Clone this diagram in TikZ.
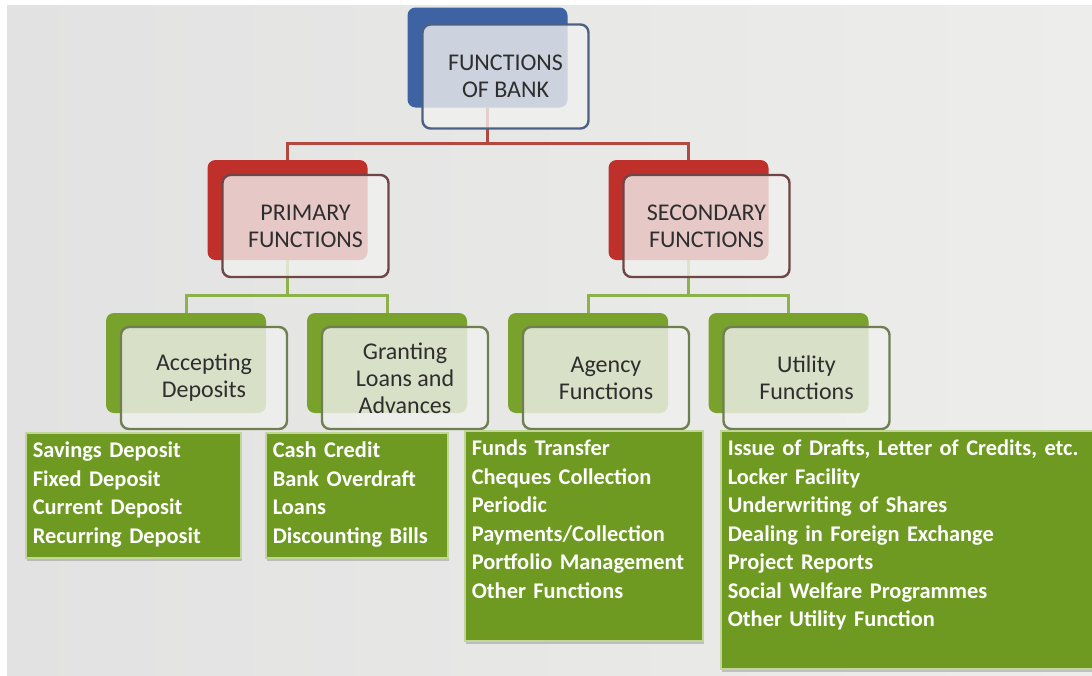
\documentclass[tikz,border=0pt]{standalone}
\usepackage{fontspec}
\setmainfont{Carlito}
\usetikzlibrary{shadows}
\definecolor{bankblue}{HTML}{3E63A3}
\definecolor{bankblueline}{HTML}{4D6184}
\definecolor{bankred}{HTML}{BF302B}
\definecolor{bankredline}{HTML}{6E4646}
\definecolor{bankgreen}{HTML}{78A22B}
\definecolor{bankgreenline}{HTML}{6F7F52}
\definecolor{listgreen}{HTML}{6E9A22}
\definecolor{listedge}{HTML}{C2D69A}
\definecolor{frontfill}{HTML}{F0F0EE}
\definecolor{redlink}{HTML}{B2483F}
\definecolor{greenlink}{HTML}{8DB24B}
\definecolor{bgleft}{HTML}{E2E2E2}
\definecolor{bgright}{HTML}{EDEDEB}
\tikzset{
  backbox/.style={rounded corners=4pt, minimum width=80pt, minimum height=50pt, inner sep=0pt},
  frontbox/.style={draw, rounded corners=4pt, line width=1.2pt, fill=frontfill, fill opacity=0.8,
    draw opacity=1, text opacity=1, minimum width=83pt, minimum height=51pt, inner sep=0pt, align=center,
    text=black!82, font=\fontsize{12}{13.5}\selectfont},
  listbox/.style={draw=listedge, line width=0.8pt, fill=listgreen, text=white, align=left,
    anchor=north west, inner xsep=3.5pt, inner ysep=2pt, text height=10.5pt,
    font=\fontsize{11.2}{14.25}\selectfont\bfseries,
    drop shadow={shadow xshift=0.6pt, shadow yshift=-1.6pt, opacity=0.4}},
  redlinkline/.style={draw=redlink, line width=1.5pt},
  greenlinkline/.style={draw=greenlink, line width=1.5pt}
}
\begin{document}
\begin{tikzpicture}[x=0.5pt, y=-0.5pt]
  \useasboundingbox (0,0) rectangle (1092,675);
  \fill[white] (0,0) rectangle (1092,675);
  \shade[left color=bgleft, right color=bgright] (7,5) rectangle (1092,675);

  % back boxes
  \node[backbox, fill=bankblue] (bank) at (487.5,57.5) {};
  \node[backbox, fill=bankred] (prim) at (287.5,210) {};
  \node[backbox, fill=bankred] (sec) at (688.5,210) {};
  \node[backbox, fill=bankgreen] (acc) at (186,363) {};
  \node[backbox, fill=bankgreen] (gra) at (387,363) {};
  \node[backbox, fill=bankgreen] (agy) at (588,363) {};
  \node[backbox, fill=bankgreen] (uti) at (788.5,363) {};

  % connectors
  \coordinate (bankjoin) at (487.5,143);
  \coordinate (primjoin) at (287.5,295);
  \coordinate (secjoin) at (688.5,295);
  \draw[redlinkline] (bank.south) -- (bankjoin);
  \draw[redlinkline] (prim.north) |- (bankjoin) -| (sec.north);
  \draw[greenlinkline] (prim.south) -- (primjoin);
  \draw[greenlinkline] (acc.north) |- (primjoin) -| (gra.north);
  \draw[greenlinkline] (sec.south) -- (secjoin);
  \draw[greenlinkline] (agy.north) |- (secjoin) -| (uti.north);

  % front boxes
  \node[frontbox, draw=bankblueline, minimum height=52pt] (bankf) at ([xshift=9pt,yshift=-9.5pt]bank.center) {FUNCTIONS\\OF BANK};
  \node[frontbox, draw=bankredline] (primf) at ([xshift=9pt,yshift=-8pt]prim.center) {PRIMARY\\FUNCTIONS};
  \node[frontbox, draw=bankredline] (secf) at ([xshift=9pt,yshift=-8pt]sec.center) {SECONDARY\\FUNCTIONS};
  \node[frontbox, draw=bankgreenline] (accf) at ([xshift=9pt,yshift=-7.5pt]acc.center) {Accepting\\Deposits};
  \node[frontbox, draw=bankgreenline] (graf) at ([xshift=9pt,yshift=-7.5pt]gra.center) {Granting\\Loans and\\Advances};
  \node[frontbox, draw=bankgreenline] (agyf) at ([xshift=9pt,yshift=-7.5pt]agy.center) {Agency\\Functions};
  \node[frontbox, draw=bankgreenline] (utif) at ([xshift=9pt,yshift=-7.5pt]uti.center) {Utility\\Functions};

  % lists
  \node[listbox, text width=100.5pt, text depth=48pt] (acclist) at (25,432)
    {Savings Deposit\\Fixed Deposit\\Current Deposit\\Recurring Deposit};
  \node[listbox, text width=84pt, text depth=48pt] (gralist) at (265,432)
    {Cash Credit\\Bank Overdraft\\Loans\\Discounting Bills};
  \node[listbox, text width=112pt, text depth=90.5pt] (agylist) at (464,430)
    {Funds Transfer\\Cheques Collection\\Periodic\\Payments/Collection\\Portfolio Management\\Other Functions};
  \node[listbox, text width=179pt, text depth=104.5pt] (utilist) at (720,430)
    {Issue of Drafts, Letter of Credits, etc.\\Locker Facility\\Underwriting of Shares\\Dealing in Foreign Exchange\\Project Reports\\Social Welfare Programmes\\Other Utility Function};
\end{tikzpicture}
\end{document}
